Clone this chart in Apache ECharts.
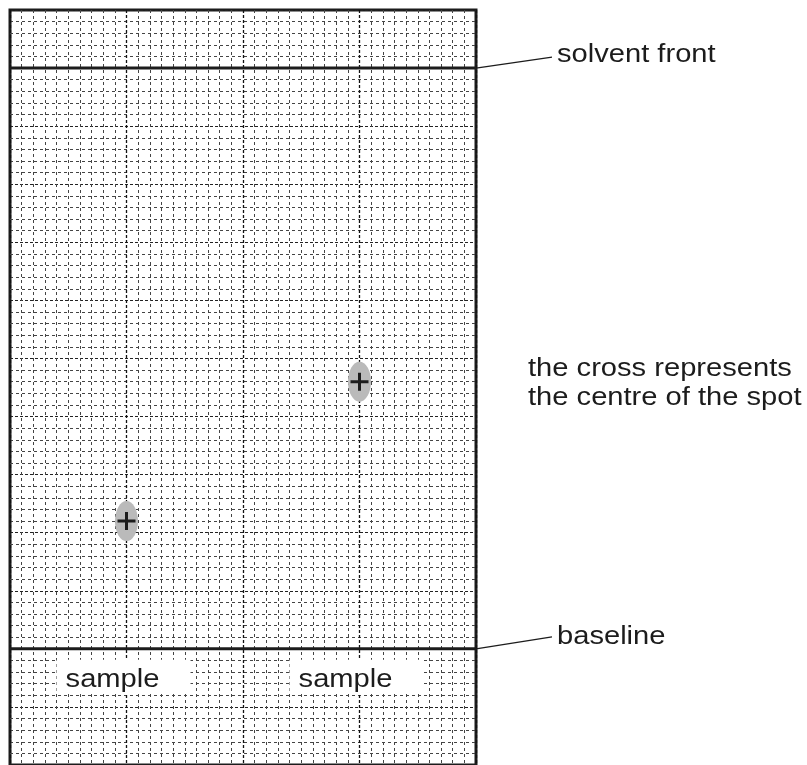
<!DOCTYPE html>
<html>
<head>
<meta charset="utf-8">
<script src="https://cdn.jsdelivr.net/npm/echarts@6/dist/echarts.min.js"></script>
<style>
  html, body { margin: 0; padding: 0; background: #fff; }
  #chart { width: 807px; height: 765px; }
</style>
</head>
<body>
<div id="chart"></div>
<script>
// paper in grid units (1 unit = one small square), y = 0 at the baseline
const paperX = [0, 40]
const solventFront = 50
const baseline = 0
const spotX = [10, 30]
const spotY = [11, 23]
const sampleNames = ['sample', 'sample']
const sampleX = [8.8, 28.8]
const sampleY = -2.4
const frontText = 'solvent front'
const baseText = 'baseline'
const noteText = 'the cross represents\nthe centre of the spot'

const ink = '#1c1c1c'
const font = '"Liberation Sans", Arial, sans-serif'
const plus = 'path://M0,7.5H18V10.5H0Z M7.5,0H10.5V18H7.5Z'

let chart = echarts.init(document.querySelector('#chart'))

chart.setOption({
    animation: false,
    grid: {
        left: 10, top: 10, width: 466, height: 759,
        show: true, borderColor: ink, borderWidth: 3, backgroundColor: '#fff'
    },
    xAxis: {
        type: 'value', min: paperX[0], max: paperX[1], interval: 10,
        axisLine: {show: false}, axisTick: {show: false}, axisLabel: {show: false},
        splitLine: {show: true, lineStyle: {color: '#111', width: 1.3, type: [3, 2]}},
        minorTick: {show: false, splitNumber: 10},
        minorSplitLine: {show: true, lineStyle: {color: '#444', width: 1, type: [3, 3]}}
    },
    yAxis: {
        type: 'value', min: -10, max: 55, interval: 5,
        axisLine: {show: false}, axisTick: {show: false}, axisLabel: {show: false},
        splitLine: {show: true, lineStyle: {color: '#222', width: 1.2, type: [3, 2]}},
        minorTick: {show: false, splitNumber: 5},
        minorSplitLine: {show: true, lineStyle: {color: '#444', width: 1, type: [3, 3]}}
    },
    series: [
        {
            name: 'solvent front', type: 'line', symbol: 'none', z: 5,
            data: paperX.map(x => [x, solventFront]),
            lineStyle: {color: ink, width: 3}
        },
        {
            name: 'baseline', type: 'line', symbol: 'none', z: 5,
            data: paperX.map(x => [x, baseline]),
            lineStyle: {color: ink, width: 3}
        },
        {
            name: 'spot', type: 'scatter', symbol: 'circle', symbolSize: [23, 40], z: 6,
            data: spotX.map((x, i) => [x, spotY[i]]),
            itemStyle: {color: '#bababa', opacity: 1}
        },
        {
            name: 'centre', type: 'scatter', symbol: plus, symbolSize: 18, z: 7,
            data: spotX.map((x, i) => [x, spotY[i]]),
            itemStyle: {color: ink, opacity: 1}
        }
    ]
})

// annotations placed through the axes
function px(x, y) {
    return chart.convertToPixel({xAxisIndex: 0, yAxisIndex: 0}, [x, y])
}

function label(x, y, text, align) {
    return {
        type: 'text', x: x, y: y, scaleX: 1.12, z: 20,
        style: {
            text: text, x: 0, y: 0, fill: ink, fontSize: 26, fontFamily: font,
            lineHeight: 29, align: align, verticalAlign: 'middle'
        }
    }
}

let front = px(paperX[1], solventFront)
let base = px(paperX[1], baseline)
let note = px(paperX[1], spotY[1])
let graphic = []

graphic.push({type: 'line', z: 20, shape: {x1: front[0], y1: front[1], x2: front[0] + 76, y2: front[1] - 11},
    style: {stroke: ink, lineWidth: 1.3}})
graphic.push(label(front[0] + 81, front[1] - 13, frontText, 'left'))
graphic.push({type: 'line', z: 20, shape: {x1: base[0], y1: base[1], x2: base[0] + 76, y2: base[1] - 12},
    style: {stroke: ink, lineWidth: 1.3}})
graphic.push(label(base[0] + 81, base[1] - 12, baseText, 'left'))
graphic.push(label(note[0] + 52, note[1] + 2, noteText, 'left'))

sampleNames.forEach(function (name, i) {
    let p = px(sampleX[i], sampleY)
    graphic.push({type: 'rect', z: 15, shape: {x: p[0] - 56, y: p[1] - 17, width: 134, height: 34},
        style: {fill: '#fff'}})
    graphic.push(label(p[0], p[1] + 3, name, 'center'))
})

chart.setOption({graphic: graphic})
</script>
</body>
</html>
